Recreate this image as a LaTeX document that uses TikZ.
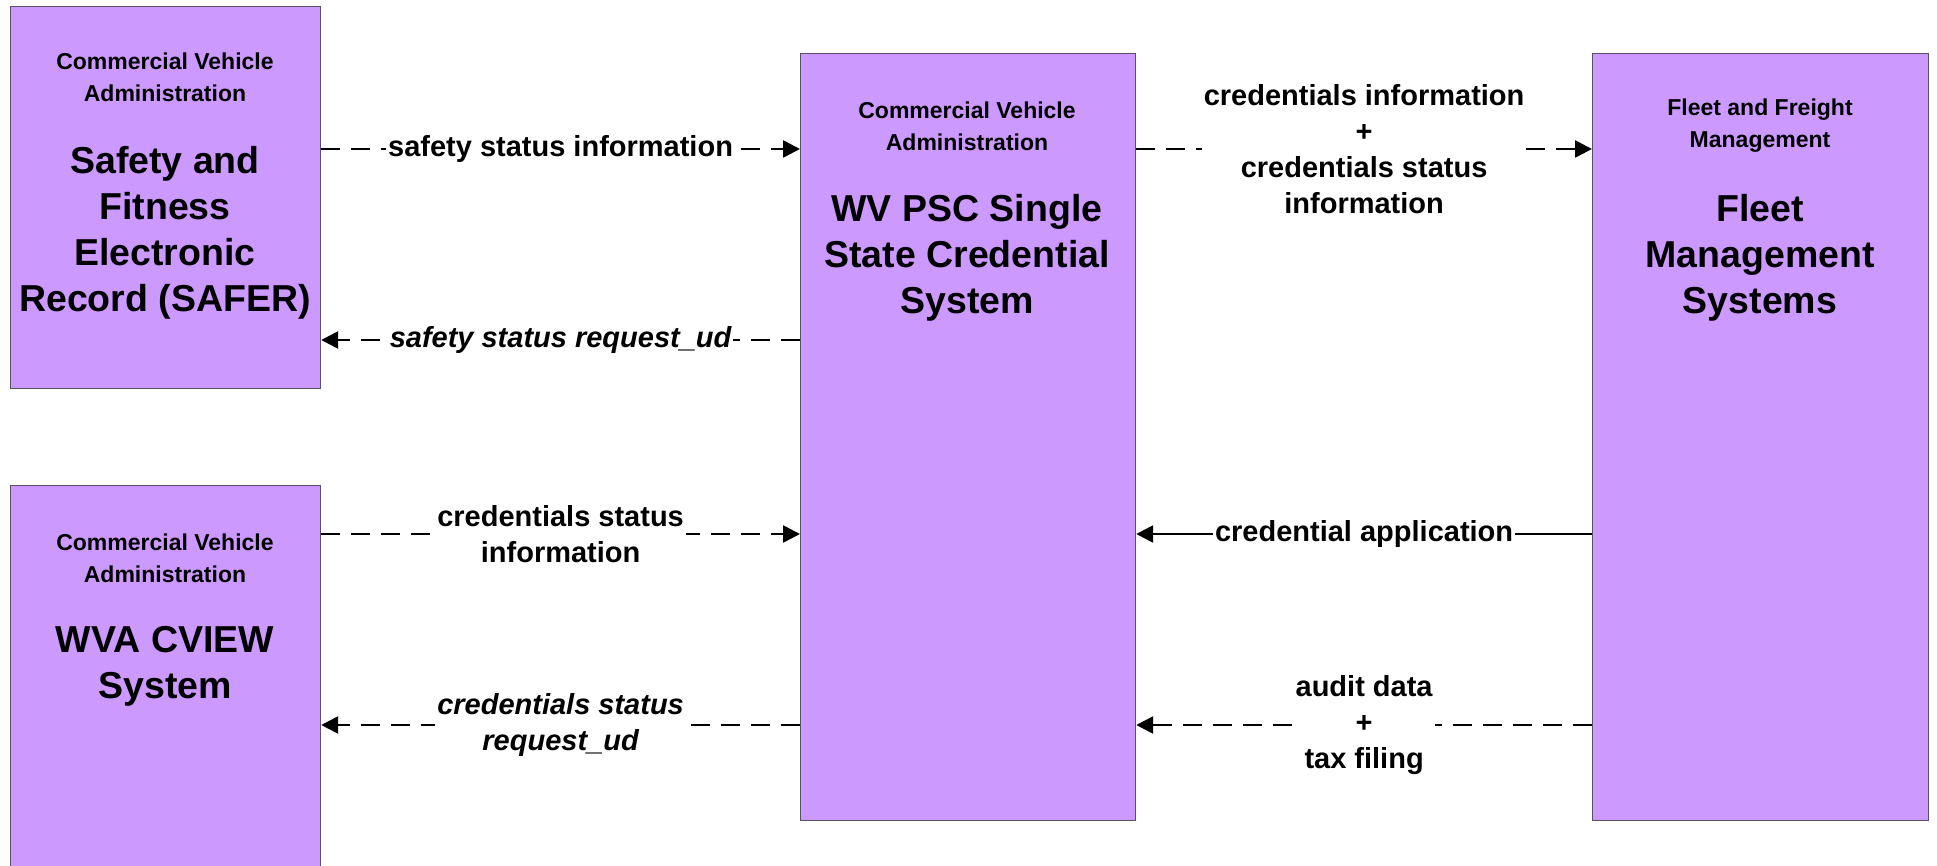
\documentclass[tikz,border=0pt]{standalone}
\usepackage{fontspec}
\setmainfont{Liberation Sans}
\usetikzlibrary{arrows.meta}
\definecolor{boxfill}{RGB}{204,153,255}
\definecolor{boxline}{RGB}{90,80,100}
\tikzset{
  sysbox/.style={draw=boxline, line width=1.2pt, fill=boxfill, anchor=north west, inner sep=0pt},
  hdr/.style={align=center, inner sep=0pt, font=\bfseries\fontsize{23}{32}\selectfont},
  ttl/.style={align=center, inner sep=0pt, font=\bfseries\fontsize{37.5}{46}\selectfont},
  flow/.style={line width=2.6pt, -{Triangle[length=17pt,width=17pt]}},
  dflow/.style={flow, dash pattern=on 19pt off 11pt},
  lbl/.style={fill=white, align=center, inner sep=2pt, font=\bfseries\fontsize{29}{36}\selectfont},
  ilbl/.style={lbl, font=\bfseries\itshape\fontsize{29}{36}\selectfont}
}
\begin{document}
\begin{tikzpicture}[x=1pt,y=-1pt]
\useasboundingbox (0,0) rectangle (1937,866);
\clip (0,0) rectangle (1937,866);
% boxes
\node[sysbox, minimum width=310pt, minimum height=382pt] (safer) at (10,6) {};
\node[sysbox, minimum width=310pt, minimum height=400pt] (cview) at (10,485) {};
\node[sysbox, minimum width=335pt, minimum height=767pt] (psc) at (800,53) {};
\node[sysbox, minimum width=336pt, minimum height=767pt] (fleet) at (1592,53) {};
% box texts
\node[hdr] (saferh) at (165,77) {Commercial Vehicle\\Administration};
\node[ttl] (safert) at (165,233) {Safety and\\Fitness\\Electronic\\Record (SAFER)};
\node[hdr] (pscph) at (967,126) {Commercial Vehicle\\Administration};
\node[ttl] (psct) at (967,258) {WV PSC Single\\State Credential\\System};
\node[hdr] (fleeth) at (1760,126) {Fleet and Freight\\Management};
\node[ttl] (fleett) at (1760,258) {Fleet\\Management\\Systems};
\node[hdr] (cviewh) at (165,558) {Commercial Vehicle\\Administration};
\node[ttl] (cviewt) at (165,666) {WVA CVIEW\\System};
% row coordinates
\coordinate (r1) at (0,149);
\coordinate (r2) at (0,340);
\coordinate (r3) at (0,534);
\coordinate (r4) at (0,725);
% connectors
\draw[dflow] (safer.east |- r1) -- node[lbl] (l1) {safety status information} (psc.west |- r1);
\draw[dflow] (psc.west |- r2) -- node[ilbl] (l2) {safety status request\_ud} (safer.east |- r2);
\draw[dflow] (cview.east |- r3) -- node[lbl] (l3) {credentials status\\information} (psc.west |- r3);
\draw[dflow] (psc.west |- r4) -- node[ilbl] (l4) {credentials status\\request\_ud} (cview.east |- r4);
\draw[dflow] (psc.east |- r1) -- node[lbl] (l5) {credentials information\\+\\credentials status\\information} (fleet.west |- r1);
\draw[flow] (fleet.west |- r3) -- node[lbl] (l6) {credential application} (psc.east |- r3);
\draw[dflow] (fleet.west |- r4) -- node[lbl] (l7) {audit data\\+\\tax filing} (psc.east |- r4);
\end{tikzpicture}
\end{document}
